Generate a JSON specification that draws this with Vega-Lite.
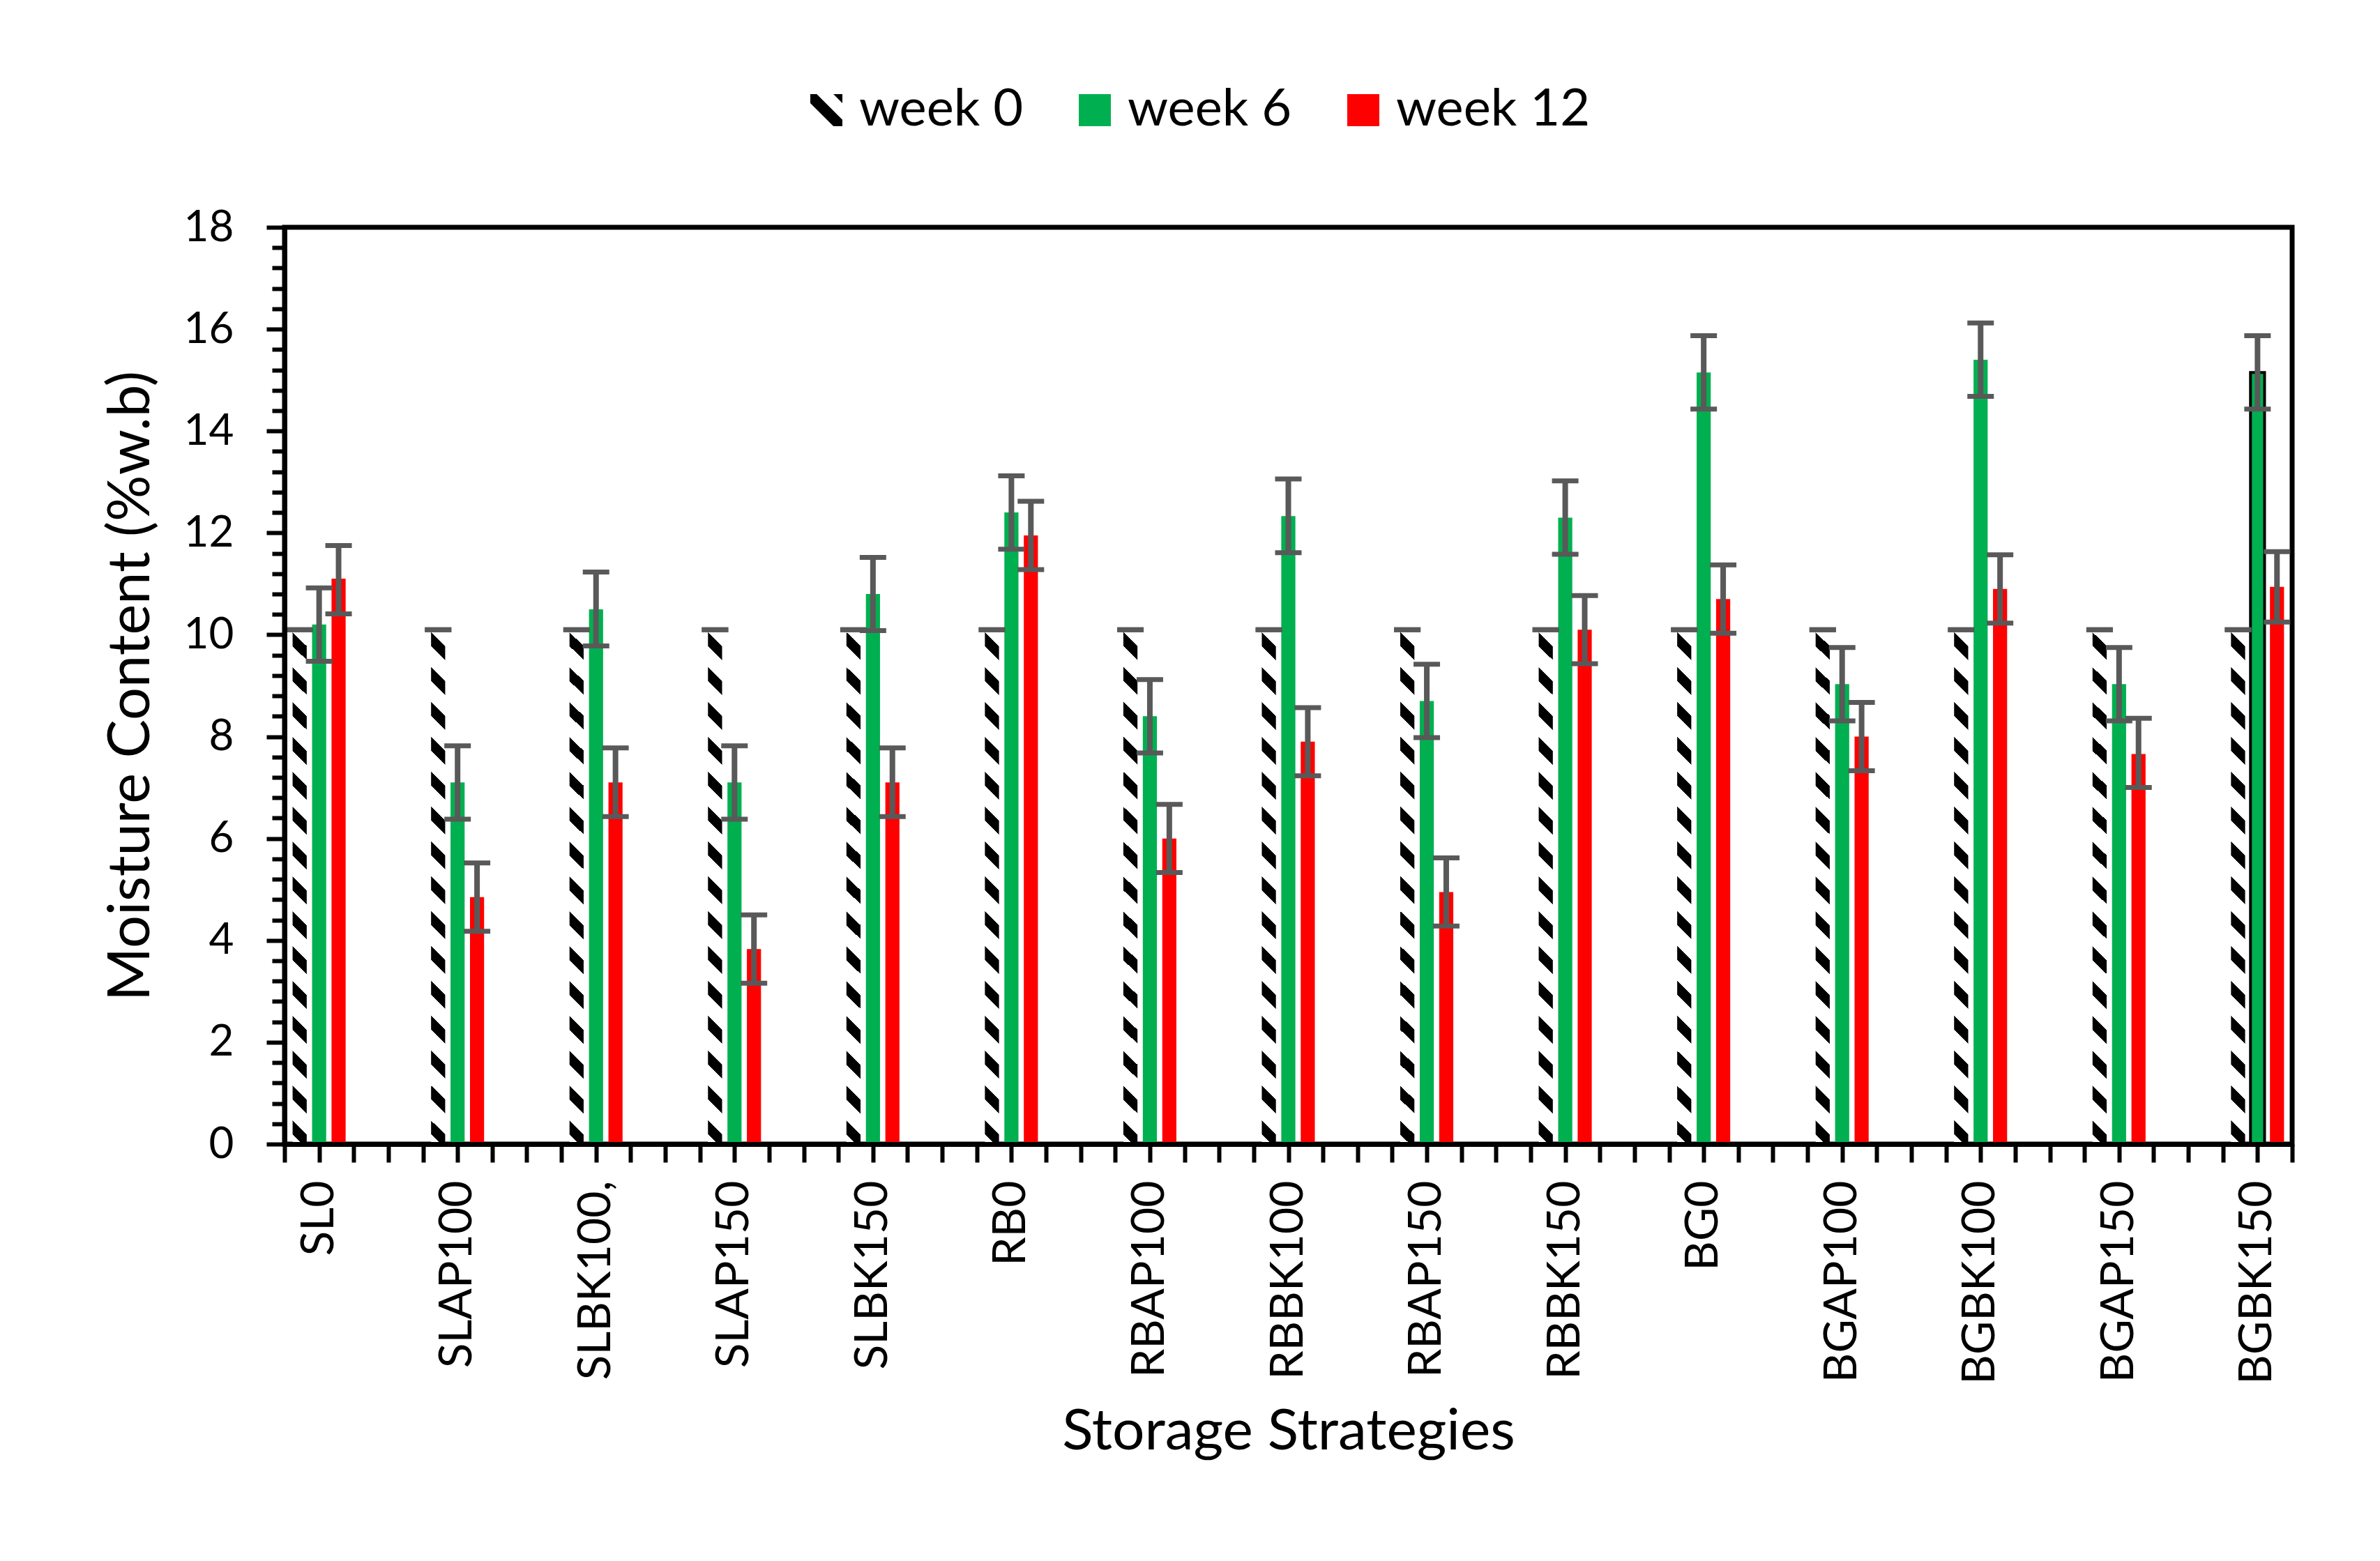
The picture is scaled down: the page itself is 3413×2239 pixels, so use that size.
{
  "$schema": "https://vega.github.io/schema/vega-lite/v6.json",
  "width": 2879,
  "height": 1315,
  "autosize": {"type": "none"},
  "padding": {"left": 408, "top": 326, "right": 126, "bottom": 598},
  "background": "white",
  "config": {
    "font": "Lato",
    "view": {"stroke": "black", "strokeWidth": 7},
    "axis": {"labelFont": "Lato", "titleFont": "Lato", "labelColor": "black", "titleColor": "black", "grid": false, "titleFontWeight": "normal"}
  },
  "data": {
    "values": [
      {"s": "SL0", "week": "week 0", "v": 10.1, "lo": 10.1, "hi": 10.1},
      {"s": "SL0", "week": "week 6", "v": 10.2, "lo": 9.48, "hi": 10.92},
      {"s": "SL0", "week": "week 12", "v": 11.1, "lo": 10.41, "hi": 11.75},
      {"s": "SLAP100 ", "week": "week 0", "v": 10.1, "lo": 10.1, "hi": 10.1},
      {"s": "SLAP100 ", "week": "week 6", "v": 7.1, "lo": 6.38, "hi": 7.82},
      {"s": "SLAP100 ", "week": "week 12", "v": 4.85, "lo": 4.18, "hi": 5.52},
      {"s": "SLBK100,", "week": "week 0", "v": 10.1, "lo": 10.1, "hi": 10.1},
      {"s": "SLBK100,", "week": "week 6", "v": 10.5, "lo": 9.78, "hi": 11.23},
      {"s": "SLBK100,", "week": "week 12", "v": 7.1, "lo": 6.43, "hi": 7.78},
      {"s": "SLAP150 ", "week": "week 0", "v": 10.1, "lo": 10.1, "hi": 10.1},
      {"s": "SLAP150 ", "week": "week 6", "v": 7.1, "lo": 6.38, "hi": 7.82},
      {"s": "SLAP150 ", "week": "week 12", "v": 3.83, "lo": 3.16, "hi": 4.5},
      {"s": "SLBK150", "week": "week 0", "v": 10.1, "lo": 10.1, "hi": 10.1},
      {"s": "SLBK150", "week": "week 6", "v": 10.8, "lo": 10.08, "hi": 11.52},
      {"s": "SLBK150", "week": "week 12", "v": 7.1, "lo": 6.43, "hi": 7.78},
      {"s": "RB0", "week": "week 0", "v": 10.1, "lo": 10.1, "hi": 10.1},
      {"s": "RB0", "week": "week 6", "v": 12.4, "lo": 11.68, "hi": 13.12},
      {"s": "RB0", "week": "week 12", "v": 11.95, "lo": 11.28, "hi": 12.62},
      {"s": "RBAP100", "week": "week 0", "v": 10.1, "lo": 10.1, "hi": 10.1},
      {"s": "RBAP100", "week": "week 6", "v": 8.4, "lo": 7.68, "hi": 9.12},
      {"s": "RBAP100", "week": "week 12", "v": 6.0, "lo": 5.33, "hi": 6.67},
      {"s": "RBBK100", "week": "week 0", "v": 10.1, "lo": 10.1, "hi": 10.1},
      {"s": "RBBK100", "week": "week 6", "v": 12.33, "lo": 11.61, "hi": 13.06},
      {"s": "RBBK100", "week": "week 12", "v": 7.9, "lo": 7.23, "hi": 8.57},
      {"s": "RBAP150", "week": "week 0", "v": 10.1, "lo": 10.1, "hi": 10.1},
      {"s": "RBAP150", "week": "week 6", "v": 8.7, "lo": 7.98, "hi": 9.42},
      {"s": "RBAP150", "week": "week 12", "v": 4.95, "lo": 4.28, "hi": 5.62},
      {"s": "RBBK150", "week": "week 0", "v": 10.1, "lo": 10.1, "hi": 10.1},
      {"s": "RBBK150", "week": "week 6", "v": 12.3, "lo": 11.58, "hi": 13.02},
      {"s": "RBBK150", "week": "week 12", "v": 10.1, "lo": 9.43, "hi": 10.77},
      {"s": "BG0", "week": "week 0", "v": 10.1, "lo": 10.1, "hi": 10.1},
      {"s": "BG0", "week": "week 6", "v": 15.15, "lo": 14.43, "hi": 15.87},
      {"s": "BG0", "week": "week 12", "v": 10.7, "lo": 10.03, "hi": 11.37},
      {"s": "BGAP100", "week": "week 0", "v": 10.1, "lo": 10.1, "hi": 10.1},
      {"s": "BGAP100", "week": "week 6", "v": 9.03, "lo": 8.31, "hi": 9.75},
      {"s": "BGAP100", "week": "week 12", "v": 8.0, "lo": 7.33, "hi": 8.67},
      {"s": "BGBK100", "week": "week 0", "v": 10.1, "lo": 10.1, "hi": 10.1},
      {"s": "BGBK100", "week": "week 6", "v": 15.4, "lo": 14.68, "hi": 16.12},
      {"s": "BGBK100", "week": "week 12", "v": 10.9, "lo": 10.23, "hi": 11.57},
      {"s": "BGAP150", "week": "week 0", "v": 10.1, "lo": 10.1, "hi": 10.1},
      {"s": "BGAP150", "week": "week 6", "v": 9.03, "lo": 8.31, "hi": 9.75},
      {"s": "BGAP150", "week": "week 12", "v": 7.66, "lo": 7.0, "hi": 8.36},
      {"s": "BGBK150", "week": "week 0", "v": 10.1, "lo": 10.1, "hi": 10.1},
      {"s": "BGBK150", "week": "week 6", "v": 15.15, "lo": 14.43, "hi": 15.87},
      {"s": "BGBK150", "week": "week 12", "v": 10.94, "lo": 10.25, "hi": 11.63}
    ]
  },
  "resolve": {"scale": {"x": "independent"}, "axis": {"y": "independent"}},
  "layer": [
    {
      "mark": {"type": "point", "filled": true, "opacity": 1},
      "encoding": {
        "x": {"field": "s", "type": "nominal", "sort": null, "axis": null,
          "scale": {"domain": ["SL0", "SLAP100 ", "SLBK100,", "SLAP150 ", "SLBK150", "RB0", "RBAP100", "RBBK100", "RBAP150", "RBBK150", "BG0", "BGAP100", "BGBK100", "BGAP150", "BGBK150"], "paddingInner": 0.617, "paddingOuter": 0.0585}},
        "xOffset": {"field": "week", "type": "nominal", "scale": {"domain": ["week 0", "week 6", "week 12"], "paddingInner": 0.275, "paddingOuter": 0}},
        "y": {"datum": 0, "type": "quantitative", "axis": null},
        "color": {
          "field": "week", "type": "nominal",
          "scale": {"domain": ["week 0", "week 6", "week 12"], "range": ["black", "#00B050", "#FF0000"]},
          "legend": {
            "orient": "none", "legendX": 740, "legendY": -205, "direction": "horizontal", "title": null,
            "labelFont": "Lato", "labelFontSize": 74, "labelColor": "black", "labelLimit": 1000,
            "symbolSize": 2116, "symbolStrokeWidth": 0, "labelOffset": 10, "columnPadding": 65, "padding": 0
          }
        },
        "shape": {
          "field": "week", "type": "nominal",
          "scale": {"domain": ["week 0", "week 6", "week 12"], "range": ["M-1,-1L-0.6,-1L1,0.6L1,1L0.44,1L-1,-0.44ZM0.44,-1L1,-1L1,-0.44Z", "square", "square"]},
          "legend": {
            "orient": "none", "legendX": 740, "legendY": -205, "direction": "horizontal", "title": null,
            "labelFont": "Lato", "labelFontSize": 74, "labelColor": "black", "labelLimit": 1000,
            "symbolSize": 2116, "symbolStrokeWidth": 0, "labelOffset": 10, "columnPadding": 65, "padding": 0
          }
        }
      }
    },
    {
      "mark": {"type": "bar", "strokeWidth": 4},
      "encoding": {
        "x": {
          "field": "s", "type": "nominal", "sort": null,
          "scale": {"domain": ["SL0", "SLAP100 ", "SLBK100,", "SLAP150 ", "SLBK150", "RB0", "RBAP100", "RBBK100", "RBAP150", "RBBK150", "BG0", "BGAP100", "BGBK100", "BGAP150", "BGBK150"], "paddingInner": 0.617, "paddingOuter": 0.0585},
          "axis": {
            "orient": "bottom", "ticks": false, "tickSize": 0, "labelAngle": -90, "labelAlign": "right", "labelBaseline": "middle",
            "labelFontSize": 66, "labelPadding": 52, "labelLimit": 1000, "labelOverlap": false,
            "domain": true, "domainWidth": 7, "domainColor": "black",
            "title": "Storage Strategies", "titleFontSize": 82, "titlePadding": 172, "zindex": 1
          }
        },
        "xOffset": {"field": "week", "type": "nominal", "scale": {"domain": ["week 0", "week 6", "week 12"], "paddingInner": 0.275, "paddingOuter": 0}},
        "y": {
          "field": "v", "type": "quantitative",
          "scale": {"domain": [0, 18], "nice": false, "zero": true},
          "axis": {
            "orient": "left",
            "values": [0, 2, 4, 6, 8, 10, 12, 14, 16, 18], "format": "d",
            "tickSize": 26, "tickWidth": 6, "tickColor": "black",
            "labelPadding": 47, "labelFontSize": 62, "labelOverlap": false, "labelFlush": false,
            "domain": true, "domainWidth": 7, "domainColor": "black",
            "title": "Moisture Content (%w.b)", "titleFontSize": 83, "titlePadding": 33, "zindex": 1
          }
        },
        "fill": {
          "condition": [
            {
              "test": "datum.week === 'week 0'",
              "value": {
                "gradient": "linear", "x1": 0, "y1": 0, "x2": -0.0271, "y2": 1,
                "stops": [
                  {"offset": 0, "color": "white"},
                  {"offset": 0.005, "color": "white"}, {"offset": 0.005, "color": "black"}, {"offset": 0.032, "color": "black"}, {"offset": 0.032, "color": "white"},
                  {"offset": 0.07275, "color": "white"}, {"offset": 0.07275, "color": "black"}, {"offset": 0.09975, "color": "black"}, {"offset": 0.09975, "color": "white"},
                  {"offset": 0.1405, "color": "white"}, {"offset": 0.1405, "color": "black"}, {"offset": 0.1675, "color": "black"}, {"offset": 0.1675, "color": "white"},
                  {"offset": 0.20825, "color": "white"}, {"offset": 0.20825, "color": "black"}, {"offset": 0.23525, "color": "black"}, {"offset": 0.23525, "color": "white"},
                  {"offset": 0.276, "color": "white"}, {"offset": 0.276, "color": "black"}, {"offset": 0.303, "color": "black"}, {"offset": 0.303, "color": "white"},
                  {"offset": 0.34375, "color": "white"}, {"offset": 0.34375, "color": "black"}, {"offset": 0.37075, "color": "black"}, {"offset": 0.37075, "color": "white"},
                  {"offset": 0.4115, "color": "white"}, {"offset": 0.4115, "color": "black"}, {"offset": 0.4385, "color": "black"}, {"offset": 0.4385, "color": "white"},
                  {"offset": 0.47925, "color": "white"}, {"offset": 0.47925, "color": "black"}, {"offset": 0.50625, "color": "black"}, {"offset": 0.50625, "color": "white"},
                  {"offset": 0.547, "color": "white"}, {"offset": 0.547, "color": "black"}, {"offset": 0.574, "color": "black"}, {"offset": 0.574, "color": "white"},
                  {"offset": 0.61475, "color": "white"}, {"offset": 0.61475, "color": "black"}, {"offset": 0.64175, "color": "black"}, {"offset": 0.64175, "color": "white"},
                  {"offset": 0.6825, "color": "white"}, {"offset": 0.6825, "color": "black"}, {"offset": 0.7095, "color": "black"}, {"offset": 0.7095, "color": "white"},
                  {"offset": 0.75025, "color": "white"}, {"offset": 0.75025, "color": "black"}, {"offset": 0.77725, "color": "black"}, {"offset": 0.77725, "color": "white"},
                  {"offset": 0.818, "color": "white"}, {"offset": 0.818, "color": "black"}, {"offset": 0.845, "color": "black"}, {"offset": 0.845, "color": "white"},
                  {"offset": 0.88575, "color": "white"}, {"offset": 0.88575, "color": "black"}, {"offset": 0.91275, "color": "black"}, {"offset": 0.91275, "color": "white"},
                  {"offset": 0.9535, "color": "white"}, {"offset": 0.9535, "color": "black"}, {"offset": 0.9805, "color": "black"}, {"offset": 0.9805, "color": "white"},
                  {"offset": 1, "color": "white"}
                ]
              }
            },
            {"test": "datum.week === 'week 6'", "value": "#00B050"}
          ],
          "value": "#FF0000"
        },
        "stroke": {
          "condition": {"test": "datum.s === 'BGBK150' && datum.week === 'week 6'", "value": "black"},
          "value": null
        }
      }
    },
    {
      "mark": {"type": "rule", "strokeWidth": 8, "color": "#595959"},
      "encoding": {
        "x": {"field": "s", "type": "nominal", "sort": null, "axis": null,
          "scale": {"domain": ["SL0", "SLAP100 ", "SLBK100,", "SLAP150 ", "SLBK150", "RB0", "RBAP100", "RBBK100", "RBAP150", "RBBK150", "BG0", "BGAP100", "BGBK100", "BGAP150", "BGBK150"], "paddingInner": 0.617, "paddingOuter": 0.0585}},
        "xOffset": {"field": "week", "type": "nominal", "scale": {"domain": ["week 0", "week 6", "week 12"], "paddingInner": 0.275, "paddingOuter": 0}},
        "y": {
          "field": "lo", "type": "quantitative",
          "axis": {
            "orient": "left",
            "values": [0.4,0.8,1.2,1.6,2.4,2.8,3.2,3.6,4.4,4.8,5.2,5.6,6.4,6.8,7.2,7.6,8.4,8.8,9.2,9.6,10.4,10.8,11.2,11.6,12.4,12.8,13.2,13.6,14.4,14.8,15.2,15.6,16.4,16.8,17.2,17.6],
            "labels": false, "domain": false, "grid": false, "title": null,
            "tickSize": 18, "tickWidth": 6, "tickColor": "black", "zindex": 1
          }
        },
        "y2": {"field": "hi"}
      }
    },
    {
      "mark": {"type": "tick", "orient": "horizontal", "size": 38, "thickness": 7, "color": "#595959", "opacity": 1},
      "encoding": {
        "x": {"field": "s", "type": "nominal", "sort": null, "axis": null,
          "scale": {"domain": ["SL0", "SLAP100 ", "SLBK100,", "SLAP150 ", "SLBK150", "RB0", "RBAP100", "RBBK100", "RBAP150", "RBBK150", "BG0", "BGAP100", "BGBK100", "BGAP150", "BGBK150"], "paddingInner": 0.617, "paddingOuter": 0.0585}},
        "xOffset": {"field": "week", "type": "nominal", "scale": {"domain": ["week 0", "week 6", "week 12"], "paddingInner": 0.275, "paddingOuter": 0}},
        "y": {"field": "lo", "type": "quantitative", "axis": null}
      }
    },
    {
      "mark": {"type": "tick", "orient": "horizontal", "size": 38, "thickness": 7, "color": "#595959", "opacity": 1},
      "encoding": {
        "x": {"field": "s", "type": "nominal", "sort": null, "axis": null,
          "scale": {"domain": ["SL0", "SLAP100 ", "SLBK100,", "SLAP150 ", "SLBK150", "RB0", "RBAP100", "RBBK100", "RBAP150", "RBBK150", "BG0", "BGAP100", "BGBK100", "BGAP150", "BGBK150"], "paddingInner": 0.617, "paddingOuter": 0.0585}},
        "xOffset": {"field": "week", "type": "nominal", "scale": {"domain": ["week 0", "week 6", "week 12"], "paddingInner": 0.275, "paddingOuter": 0}},
        "y": {"field": "hi", "type": "quantitative", "axis": null}
      }
    },
    {
      "data": {"values": [{"q": 0}]},
      "mark": {"type": "point", "opacity": 0},
      "encoding": {
        "x": {
          "field": "q", "type": "quantitative",
          "scale": {"domain": [0, 58], "nice": false, "zero": false},
          "axis": {
            "orient": "bottom",
            "values": [0,1,2,3,4,5,6,7,8,9,10,11,12,13,14,15,16,17,18,19,20,21,22,23,24,25,26,27,28,29,30,31,32,33,34,35,36,37,38,39,40,41,42,43,44,45,46,47,48,49,50,51,52,53,54,55,56,57,58],
            "labels": false, "domain": false, "grid": false, "title": null,
            "tickSize": 26, "tickWidth": 6, "tickColor": "black", "zindex": 1,
            "encode": {"ticks": {"update": {"y2": {"signal": "datum.value % 2 === 0 ? 26 : 18"}}}}
          }
        }
      }
    }
  ]
}
